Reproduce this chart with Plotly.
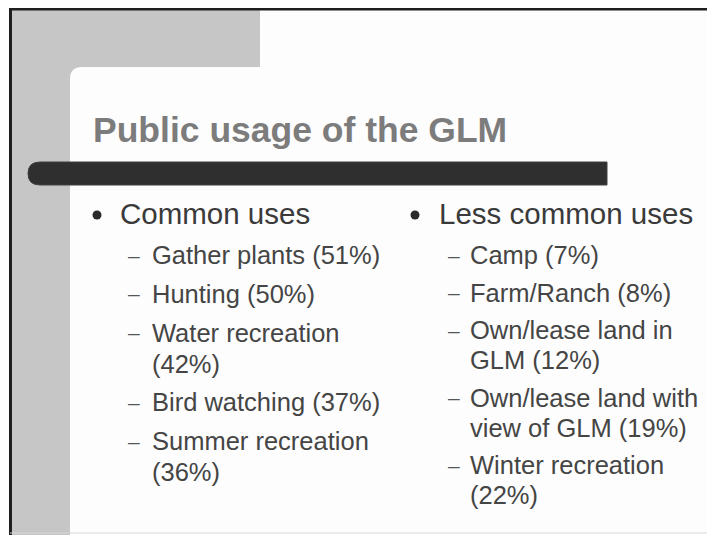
import plotly.graph_objects as go

# ---- slide content (data) ----
title_text = "Public usage of the GLM"
group_titles = ["Common uses", "Less common uses"]

common_labels = ["Gather plants", "Hunting", "Water recreation", "Bird watching", "Summer recreation"]
common_pct = [51, 50, 42, 37, 36]
common_wrap = [False, False, True, False, True]     # percentage wraps to next line

less_labels = ["Camp", "Farm/Ranch", "Own/lease land in|GLM", "Own/lease land with|view of GLM", "Winter recreation"]
less_pct = [7, 8, 12, 19, 22]
less_wrap = [False, False, False, False, True]

FONT = "Liberation Sans, Arial, sans-serif"
W, H = 715, 535
OFF = 8  # page body margin: the figure starts at page pixel (8, 8)

fig = go.Figure()
fig.add_trace(go.Scatter(x=[OFF, W], y=[OFF, H], mode="markers",
                         marker=dict(opacity=0), hoverinfo="skip", showlegend=False))

shapes = []
# gray frame area with rounded inner corner
shapes.append(dict(type="path", xref="x", yref="y", layer="below",
                   path="M 11 9 L 260 9 L 260 67 L 82 67 Q 70 67 70 79 L 70 535 L 11 535 Z",
                   fillcolor="#c6c6c6", line=dict(width=0)))
# top and left border lines
shapes.append(dict(type="line", xref="x", yref="y", x0=9, x1=W, y0=9, y1=9,
                   line=dict(color="#1e1e1e", width=3)))
shapes.append(dict(type="line", xref="x", yref="y", x0=10.5, x1=10.5, y0=8, y1=H,
                   line=dict(color="#1e1e1e", width=3)))
# bottom faint line
shapes.append(dict(type="line", xref="x", yref="y", x0=10, x1=W, y0=533, y1=533,
                   line=dict(color="#d8d8d8", width=1)))
# dark title bar with rounded left end
shapes.append(dict(type="path", xref="x", yref="y",
                   path="M 40 162 L 607 162 L 607 185 L 40 185 Q 28 185 28 173.5 Q 28 162 40 162 Z",
                   fillcolor="#2f2f2f", line=dict(color="#404040", width=1)))

annotations = []
annotations.append(dict(x=91, y=130, xref="x", yref="y", text="<b>%s</b>" % title_text,
                        showarrow=False, xanchor="left", yanchor="middle",
                        font=dict(family=FONT, size=35.5, color="#7c7c7c")))

columns = [
    dict(labels=common_labels, pct=common_pct, wrap=common_wrap,
         bx=97, tx=118, dx=127, sx=150, step=38.8, line=31.0),
    dict(labels=less_labels, pct=less_pct, wrap=less_wrap,
         bx=415, tx=437, dx=447, sx=468, step=37.5, line=30.0),
]

header_y = 213
first_y = 255
for col, gtitle in zip(columns, group_titles):
    shapes.append(dict(type="circle", xref="x", yref="y",
                       x0=col["bx"] - 4.5, x1=col["bx"] + 4.5,
                       y0=header_y - 4.5 + 2, y1=header_y + 4.5 + 2,
                       fillcolor="#2a2a2a", line=dict(width=0)))
    annotations.append(dict(x=col["tx"], y=header_y, xref="x", yref="y", text=gtitle,
                            showarrow=False, xanchor="left", yanchor="middle",
                            font=dict(family=FONT, size=29.5, color="#3a3a3a")))
    y = first_y
    for lab, p, wr in zip(col["labels"], col["pct"], col["wrap"]):
        parts = lab.split("|")
        if wr:
            parts = parts + ["(%d%%)" % p]
        else:
            parts[-1] = parts[-1] + " (%d%%)" % p
        annotations.append(dict(x=col["dx"] - 1, y=y, xref="x", yref="y", text="–",
                                showarrow=False, xanchor="left", yanchor="middle",
                                font=dict(family=FONT, size=21, color="#555555")))
        for k, part in enumerate(parts):
            annotations.append(dict(x=col["sx"], y=y + k * col["line"], xref="x", yref="y",
                                    text=part, showarrow=False, xanchor="left", yanchor="middle",
                                    font=dict(family=FONT, size=25.5, color="#454545")))
        y += (len(parts) - 1) * col["line"] + col["step"]

fig.update_layout(
    width=W - OFF, height=H - OFF,
    margin=dict(l=0, r=0, t=0, b=0),
    paper_bgcolor="#fdfdfd", plot_bgcolor="#fdfdfd",
    xaxis=dict(range=[OFF, W], visible=False, fixedrange=True),
    yaxis=dict(range=[H, OFF], visible=False, fixedrange=True),
    shapes=shapes, annotations=annotations, showlegend=False,
)
fig.write_html("out.html")
